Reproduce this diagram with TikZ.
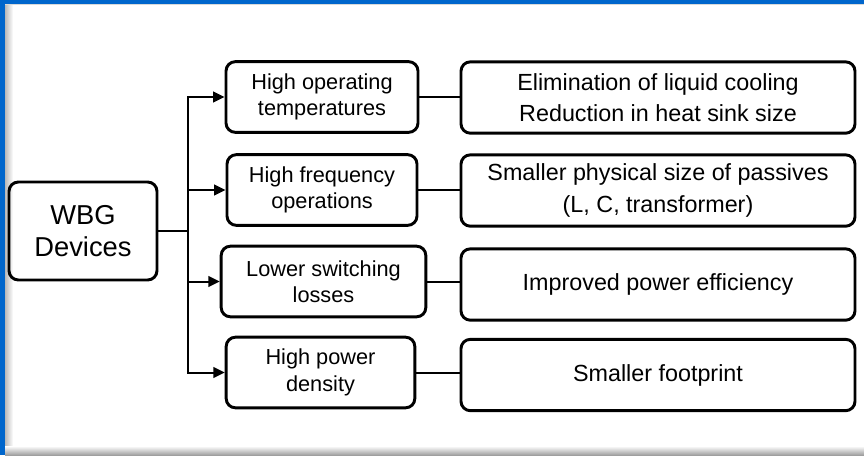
\documentclass[tikz,border=0pt]{standalone}
\usepackage{fontspec}
\setmainfont{Liberation Sans}
\usepackage{tikz}
\usetikzlibrary{arrows.meta}
\definecolor{slideblue}{RGB}{0,102,204}

\begin{document}
\begin{tikzpicture}[x=0.75pt,y=-0.75pt,
  every node/.style={draw,rounded corners=7pt,line width=2.2pt,align=center,inner sep=2pt},
  mid/.style={minimum height=53pt,font=\fontsize{16.3}{19.8}\selectfont},
  res/.style={minimum width=295.5pt,minimum height=53.5pt,font=\fontsize{17.5}{23.5}\selectfont},
  link/.style={line width=1.5pt}]
  % slide frame
  \useasboundingbox (0,0) rectangle (864,455);
  \shade[left color=gray!55,right color=white] (5,0) rectangle (13,455);
  \shade[top color=white,bottom color=gray!75] (5,446) rectangle (864,455);
  \fill[slideblue] (0,0) rectangle (864,4);
  \fill[slideblue] (0,0) rectangle (5,455);
  \draw[gray!30] (5,4.6) -- (864,4.6);

  \node (nWBG) at (83,231) [minimum width=111pt,minimum height=73.5pt,font=\fontsize{20.5}{24}\selectfont] {WBG\\Devices};
  \coordinate (nJ) at (188,231);

  \node[mid,minimum width=144pt] (nTemp) at (322,97) {High operating\\temperatures};
  \node[mid,minimum width=142.5pt] (nFreq) at (322,190) {High frequency\\operations};
  \node[mid,minimum width=153.5pt] (nLoss) at (323.5,281.5) {Lower switching\\losses};
  \node[mid,minimum width=141.5pt] (nDens) at (320.5,372.5) {High power\\density};

  \node[res] (nCool) at (658,97.5) {Elimination of liquid cooling\\Reduction in heat sink size};
  \node[res] (nPass) at (658,190.5) {Smaller physical size of passives\\(L, C, transformer)};
  \node[res] (nEff) at (658,284.5) {Improved power efficiency};
  \node[res] (nFoot) at (658,375) {Smaller footprint};

  \draw[link] (nWBG.east) -- (nJ);
  \path[link,-{Triangle[length=8.5pt,width=8pt]}]
        (nJ) edge[to path={|- (\tikztotarget)}] (nTemp)
        (nJ) edge[to path={|- (\tikztotarget)}] (nFreq)
        (nJ) edge[to path={|- (\tikztotarget)}] (nLoss)
        (nJ) edge[to path={|- (\tikztotarget)}] (nDens);
  \draw[link] (nTemp) -- (nTemp -| nCool.west);
  \draw[link] (nFreq) -- (nFreq -| nPass.west);
  \draw[link] (nLoss) -- (nLoss -| nEff.west);
  \draw[link] (nDens) -- (nDens -| nFoot.west);
\end{tikzpicture}
\end{document}
